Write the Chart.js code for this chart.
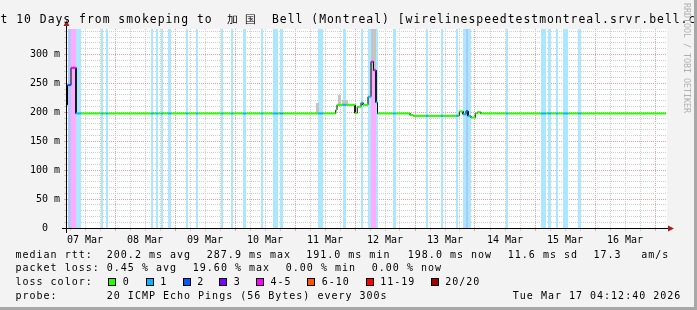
<!DOCTYPE html>
<html>
<head>
<meta charset="utf-8">
<script src="https://cdn.jsdelivr.net/npm/chart.js@4.4.1/dist/chart.umd.min.js"></script>
<style>
  html, body { margin: 0; padding: 0; background: #f3f3f3; }
  #box { position: relative; width: 697px; height: 310px; overflow: hidden; background: #f3f3f3;
         font-family: "DejaVu Sans Mono", monospace; color: #000; }
  #box canvas { position: absolute; left: 0; top: 0; }
  .t { position: absolute; white-space: pre; font-size: 10px; line-height: 10px; letter-spacing: 1px; }
  .sw { position: absolute; width: 8px; height: 8px; box-sizing: border-box; border: 1px solid #000; top: 278px; }
  .ti { position: absolute; white-space: pre; font-size: 11.4px; line-height: 11.4px; letter-spacing: 1px; top: 13.7px; }
  #credit { position: absolute; left: 682px; top: 3px; writing-mode: vertical-rl; font-size: 8.3px;
            line-height: 10px; color: #b0b0b0; white-space: pre; }
  #frame { position: absolute; left: 0; top: 0; width: 697px; height: 310px; box-sizing: border-box;
           border-right: 3px solid #a8a8a8; border-bottom: 3px solid #a8a8a8; pointer-events: none; }
</style>
</head>
<body>
<div id="box">
  <canvas id="c" width="697" height="310"></canvas>
  <div id="title">
    <span class="ti" style="left:-23.1px">Last 10 Days from smokeping to</span>
    <span class="ti" style="left:226.5px;letter-spacing:7.7px">加国</span>
    <span class="ti" style="left:272px">Bell (Montreal) [wirelinespeedtestmontreal.srvr.bell.ca]</span>
  </div>
  <div id="credit">RRDTOOL / TOBI OETIKER</div>
  <div id="legend"></div>
  <div id="frame"></div>
</div>
<script>
// x values are hours since Sat Mar 07 04:12:40 (10 day window)
const hoursShown = 240;
const dayLabels = ['07 Mar', '08 Mar', '09 Mar', '10 Mar', '11 Mar', '12 Mar', '13 Mar', '14 Mar', '15 Mar', '16 Mar'];

// median rtt in ms, each value holds from medianStart[i] until the next start
const medianStart = [0, 0.2, 1.6, 3.6, 107.5, 108.0, 115.2, 116.1, 117.6, 118.4, 120.4, 121.6, 122.6,
  123.6, 124.2, 137.2, 138.5, 156.9, 158.4, 159.6, 160.4, 161.6, 163.3, 164.1, 165.5];
const medianMs = [213, 247, 277, 198, 204, 213, 198.5, 209.6, 216.5, 213, 227, 287.5, 272.7,
  217, 198, 195.2, 194, 201.5, 196.5, 202, 193.5, 191, 198, 200, 198];
const medianEnd = 239.6;

// packet loss periods (level = index into lossLabels)
const lossStart = [0.2, 1.6, 3.6, 13.6, 15.6, 33.6, 35.6, 37.7, 40.4, 47.6, 51.6, 61.6, 65.6, 70.4, 77.6,
  82.4, 85.3, 100.4, 110.4, 117.6, 120.4, 121.6, 123.6, 130.4, 143.6, 149.6, 155.6, 158.4, 159.6, 160.4,
  175.6, 189.6, 192.4, 195.6, 198.4, 204.4];
const lossEnd = [1.6, 3.6, 5.6, 14.4, 16.4, 34.5, 36.4, 38.4, 41.6, 48.4, 52.4, 62.4, 66.4, 71.6, 78.4,
  84.4, 86.3, 102.4, 111.6, 118.4, 121.6, 123.6, 124.4, 131.6, 144.4, 150.4, 156.4, 159.6, 160.4, 161.6,
  176.4, 191.6, 193.6, 196.4, 200.4, 205.6];
const lossLevel = [2, 4, 1, 1, 1, 1, 1, 1, 1, 1, 1, 1, 1, 1, 1,
  1, 1, 1, 1, 1, 1, 4, 1, 1, 1, 1, 1, 1, 2, 1,
  1, 1, 1, 1, 1, 1];

// smoke (spread of the pings) where it is visible
const smokeStart = [99.6, 108.3, 110.0, 121.4];
const smokeEnd = [100.8, 109.6, 112.5, 123.6];
const smokeLow = [198, 212, 212, 272];
const smokeHigh = [216, 230, 222, 360];

const lossLabels = ['0', '1', '2', '3', '4-5', '6-10', '11-19', '20/20'];
const lossColors = ['#26ff00', '#00b8ff', '#0059ff', '#7e00ff', '#ff00ff', '#ff5500', '#ff0000', '#a10000'];

const rttStats = ['median rtt:', '200.2 ms avg', '287.9 ms max', '191.0 ms min', '198.0 ms now', '11.6 ms sd', '17.3', 'am/s'];
const lossStats = ['packet loss:', '0.45 % avg', '19.60 % max', '0.00 % min', '0.00 % now'];
const probeInfo = ['probe:', '20 ICMP Echo Pings (56 Bytes) every 300s', 'Tue Mar 17 04:12:40 2026'];

// ---- legend (html text) ----
const legend = document.getElementById('legend');
function addText(txt, left, top) {
  const d = document.createElement('div');
  d.className = 't';
  d.textContent = txt;
  d.style.left = left + 'px';
  d.style.top = top + 'px';
  legend.appendChild(d);
}
const rttX = [15.5, 106.8, 206.8, 306.2, 407.8, 507.8, 593.5, 641.2];
rttStats.forEach((s, i) => addText(s, rttX[i], 249.8));
const lossX = [15.5, 106.8, 192.8, 285.8, 371.8];
lossStats.forEach((s, i) => addText(s, lossX[i], 263.2));
addText('loss color:', 15.5, 276.8);
const swatchX = [108.3, 145.7, 182.7, 219.3, 256, 307.3, 365.7, 430.7];
lossLabels.forEach((s, i) => {
  const b = document.createElement('div');
  b.className = 'sw';
  b.style.left = swatchX[i] + 'px';
  b.style.background = lossColors[i];
  legend.appendChild(b);
  addText(s, swatchX[i] + 14.5, 276.8);
});
const probeX = [15.5, 106.8, 512.8];
probeInfo.forEach((s, i) => addText(s, probeX[i], 290.5));

// ---- chart ----
function fade(hex, a) {
  const n = parseInt(hex.slice(1), 16);
  const c = [n >> 16, (n >> 8) & 255, n & 255].map(v => Math.round(255 - a * (255 - v)));
  return 'rgb(' + c.join(',') + ')';
}

const xTickHours = [];
for (let k = 0; k < 40; k++) xTickHours.push(1.2 + 6 * k);
const yTickMs = [];
for (let v = 0; v <= 340; v += 10) yTickMs.push(v);

// horizontal pieces of the median, coloured by loss
const piecePoints = [], pieceColor = [];
medianStart.forEach((s, i) => {
  const e = i + 1 < medianStart.length ? medianStart[i + 1] : medianEnd;
  const v = medianMs[i];
  const edges = [s, e, ...lossStart, ...lossEnd].filter(t => t >= s && t <= e).sort((a, b) => a - b);
  for (let k = 0; k < edges.length - 1; k++) {
    const a = edges[k], b = edges[k + 1];
    if (b - a < 1e-6) continue;
    const mid = (a + b) / 2;
    const j = lossStart.findIndex((ls, n) => mid > ls && mid < lossEnd[n]);
    pieceColor.push(lossColors[j < 0 ? 0 : lossLevel[j]], null, null);
    piecePoints.push({x: a, y: v}, {x: b, y: v}, {x: b, y: null});
  }
});

// black connector for the jumps
const stepPoints = [{x: medianStart[0], y: medianMs[0]}];
for (let i = 1; i < medianStart.length; i++) {
  stepPoints.push({x: medianStart[i], y: medianMs[i - 1]}, {x: medianStart[i], y: medianMs[i]});
}
stepPoints.push({x: medianEnd, y: medianMs[medianMs.length - 1]});

const smokepingLook = {
  id: 'smokepingLook',
  beforeDraw(chart) {
    const {ctx, chartArea: a} = chart;
    ctx.save();
    ctx.fillStyle = '#ffffff';
    ctx.fillRect(a.left, a.top, a.right - a.left, a.bottom - a.top);
    ctx.restore();
  },
  beforeDatasetsDraw(chart) {
    const {ctx, chartArea: a, scales: {x, y}} = chart;
    ctx.save();
    ctx.beginPath();
    ctx.rect(a.left, a.top, a.right - a.left, a.bottom - a.top);
    ctx.clip();
    lossStart.forEach((s, i) => {
      const x0 = Math.round(x.getPixelForValue(s)), x1 = Math.round(x.getPixelForValue(lossEnd[i]));
      ctx.fillStyle = fade(lossColors[lossLevel[i]], 0.33);
      ctx.fillRect(x0, a.top, x1 - x0, a.bottom - a.top);
    });
    ctx.fillStyle = '#c4c4c4';
    smokeStart.forEach((s, i) => {
      const x0 = Math.round(x.getPixelForValue(s)), x1 = Math.round(x.getPixelForValue(smokeEnd[i]));
      const y0 = Math.round(y.getPixelForValue(smokeHigh[i])), y1 = Math.round(y.getPixelForValue(smokeLow[i]));
      ctx.fillRect(x0, y0, x1 - x0, y1 - y0);
    });
    ctx.restore();
  },
  afterDraw(chart) {
    const {ctx, chartArea: a} = chart;
    const yb = a.bottom + 0.5, xl = a.left - 0.5;
    ctx.save();
    ctx.strokeStyle = '#000';
    ctx.lineWidth = 1;
    ctx.beginPath();
    ctx.moveTo(a.left - 5, yb); ctx.lineTo(a.right + 1, yb);
    ctx.moveTo(xl, a.bottom + 5); ctx.lineTo(xl, a.top - 3);
    ctx.stroke();
    ctx.fillStyle = '#a02020';
    ctx.beginPath();
    ctx.moveTo(xl - 3, a.top - 3); ctx.lineTo(xl + 3, a.top - 3); ctx.lineTo(xl, a.top - 9); ctx.closePath();
    ctx.moveTo(a.right + 1, yb - 3); ctx.lineTo(a.right + 1, yb + 3); ctx.lineTo(a.right + 7, yb); ctx.closePath();
    ctx.fill();
    ctx.restore();
  }
};

const monoFont = {family: 'DejaVu Sans Mono', size: 10};
const majorGrid = '#e6a0a0', minorGrid = '#cfcfcf';

new Chart(document.getElementById('c'), {
  type: 'line',
  data: {
    datasets: [
      {
        data: piecePoints,
        borderColor: lossColors[0],
        borderWidth: 2,
        pointRadius: 0,
        spanGaps: false,
        segment: { borderColor: ctx => pieceColor[ctx.p0DataIndex] || undefined }
      },
      {
        data: stepPoints,
        borderColor: '#000',
        borderWidth: 1,
        pointRadius: 0
      }
    ]
  },
  options: {
    responsive: false,
    devicePixelRatio: 1,
    animation: false,
    events: [],
    layout: { padding: { top: 29, right: 30, left: 0, bottom: 0 } },
    plugins: { legend: { display: false }, tooltip: { enabled: false }, title: { display: false } },
    scales: {
      x: {
        type: 'linear',
        min: 0,
        max: hoursShown,
        afterBuildTicks: s => { s.ticks = xTickHours.map(v => ({value: v})); },
        afterFit: s => { s.height = 82; },
        border: { display: false, dash: [1, 1] },
        grid: {
          color: c => (c.index % 4 === 3 ? majorGrid : minorGrid),
          tickLength: 3
        },
        ticks: {
          autoSkip: false,
          maxRotation: 0,
          minRotation: 0,
          padding: 3,
          color: '#000',
          font: monoFont,
          callback: (v, i) => (i % 4 === 1 ? dayLabels[(i - 1) / 4] : '')
        }
      },
      y: {
        type: 'linear',
        min: 0,
        max: 344,
        afterBuildTicks: s => { s.ticks = yTickMs.map(v => ({value: v})); },
        afterFit: s => { s.width = 67; },
        border: { display: false, dash: [1, 1] },
        grid: {
          color: c => (c.tick.value % 50 === 0 ? majorGrid : minorGrid),
          tickLength: 3
        },
        ticks: {
          autoSkip: false,
          padding: 4,
          color: '#000',
          font: monoFont,
          callback: v => (v % 50 ? '' : (v ? v + ' m' : '0  '))
        }
      }
    }
  },
  plugins: [smokepingLook]
});
</script>
</body>
</html>
